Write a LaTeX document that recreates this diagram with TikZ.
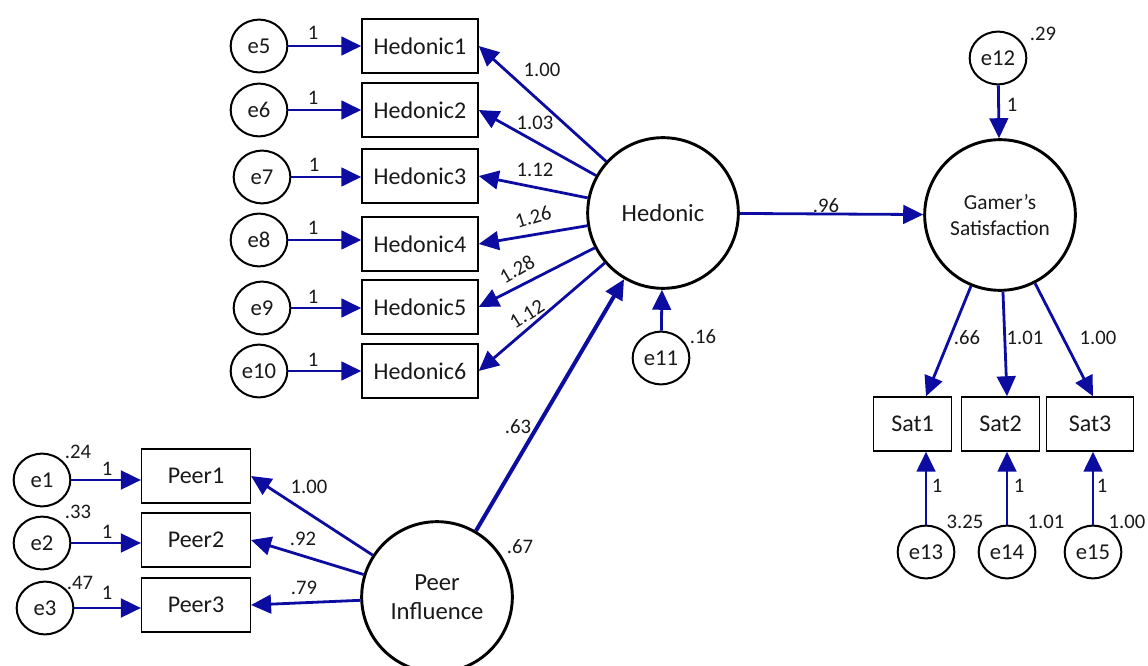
\documentclass[tikz,border=0pt]{standalone}
\usepackage{fontspec}
\setmainfont{Carlito}
\usetikzlibrary{arrows.meta,shapes.geometric}

\definecolor{pathblue}{RGB}{12,12,160}
\definecolor{inkgray}{RGB}{25,25,25}

\tikzset{
  errnode/.style={ellipse, draw, line width=1.5pt, minimum width=42.5pt, minimum height=39.5pt,
    inner sep=0pt, text=inkgray, font=\fontsize{17}{20}\selectfont},
  obsnode/.style={rectangle, draw, line width=1.1pt, minimum height=40.5pt, inner sep=0pt,
    text=inkgray, font=\fontsize{18}{21}\selectfont},
  latnode/.style={circle, draw, line width=2.2pt, minimum size=113pt, inner sep=0pt,
    align=center, text=inkgray, font=\fontsize{18.5}{22}\selectfont},
  regline/.style={draw=pathblue, line width=2.1pt, -{Triangle[length=15pt,width=14pt]}},
  coef/.style={inner sep=1pt, text=inkgray, font=\fontsize{15.5}{18}\selectfont}
}

\begin{document}
\begin{tikzpicture}[x=0.75pt, y=-0.75pt]
\useasboundingbox (0,0) rectangle (1148,666);

% Latent variables
\node[latnode] (hed) at (663,213) {Hedonic};
\node[latnode] (pi) at (437,597) {Peer\\Influence};
\node[latnode, font=\fontsize{16}{20}\selectfont] (gs) at (1000,215) {Gamer’s\\Satisfaction};

% Hedonic indicators and their errors
\node[obsnode, minimum width=87pt] (h1) at (420,46) {Hedonic1};
\node[obsnode, minimum width=87pt] (h2) at (420,110) {Hedonic2};
\node[obsnode, minimum width=87pt] (h3) at (420,176) {Hedonic3};
\node[obsnode, minimum width=87pt] (h4) at (420,244) {Hedonic4};
\node[obsnode, minimum width=87pt] (h5) at (420,307) {Hedonic5};
\node[obsnode, minimum width=87pt] (h6) at (420,371) {Hedonic6};
\node[errnode] (e5) at (259,46) {e5};
\node[errnode] (e6) at (259,110) {e6};
\node[errnode] (e7) at (262,177) {e7};
\node[errnode] (e8) at (259,240) {e8};
\node[errnode] (e9) at (262,308) {e9};
\node[errnode] (e10) at (259,371) {e10};
\node[errnode] (e11) at (661,358) {e11};

% Peer indicators and their errors
\node[obsnode, minimum width=81.5pt] (p1) at (196,476) {Peer1};
\node[obsnode, minimum width=81.5pt] (p2) at (196,540) {Peer2};
\node[obsnode, minimum width=81.5pt] (p3) at (196,605) {Peer3};
\node[errnode] (e1) at (42,480) {e1};
\node[errnode] (e2) at (42,543) {e2};
\node[errnode] (e3) at (45,608) {e3};

% Satisfaction indicators and their errors
\node[obsnode, minimum width=58.5pt] (s1) at (912.5,424) {Sat1};
\node[obsnode, minimum width=58.5pt] (s2) at (1000.5,424) {Sat2};
\node[obsnode, minimum width=65.5pt] (s3) at (1090,424) {Sat3};
\node[errnode] (e12) at (998,58) {e12};
\node[errnode] (e13) at (926,552) {e13};
\node[errnode] (e14) at (1007,552) {e14};
\node[errnode] (e15) at (1093,552) {e15};

% Paths
\draw[regline] (e5) -- (e5 -| h1.west);
\draw[regline] (e6) -- (e6 -| h2.west);
\draw[regline] (e7) -- (e7 -| h3.west);
\draw[regline] (e8) -- (e8 -| h4.west);
\draw[regline] (e9) -- (e9 -| h5.west);
\draw[regline] (e10) -- (e10 -| h6.west);
\draw[regline] (hed) -- (h1.east);
\draw[regline] (hed) -- (h2.east);
\draw[regline] (hed) -- (h3.east);
\draw[regline] (hed) -- (h4.east);
\draw[regline] (hed) -- (h5.east);
\draw[regline] (hed) -- (h6.east);
\draw[regline] (e11) -- (hed);
\draw[regline] (e1) -- (e1 -| p1.west);
\draw[regline] (e2) -- (e2 -| p2.west);
\draw[regline] (e3) -- (e3 -| p3.west);
\draw[regline] (pi) -- (p1.east);
\draw[regline] (pi) -- (p2.east);
\draw[regline] (pi) -- (p3.east);
\draw[regline, line width=3pt] (pi) -- (hed);
\draw[regline] (hed) -- (gs);
\draw[regline] (e12) -- (gs);
\draw[regline] (gs) -- (e13 |- s1.north);
\draw[regline] (gs) -- (e14 |- s2.north);
\draw[regline] (gs) -- (e15 |- s3.north);
\draw[regline] (e13) -- (e13 |- s1.south);
\draw[regline] (e14) -- (e14 |- s2.south);
\draw[regline] (e15) -- (e15 |- s3.south);

% Weights on the paths
\node[coef] (w5) at (313,33) {1};
\node[coef] (w6) at (313,98) {1};
\node[coef] (w7) at (314,165) {1};
\node[coef] (w8) at (313,228) {1};
\node[coef] (w9) at (313,297) {1};
\node[coef] (w10) at (313,360) {1};
\node[coef] (lh1) at (542,70) {1.00};
\node[coef] (lh2) at (535,123) {1.03};
\node[coef] (lh3) at (535,170) {1.12};
\node[coef, rotate=17] (lh4) at (533,217) {1.26};
\node[coef, rotate=30] (lh5) at (517,269) {1.28};
\node[coef, rotate=32] (lh6) at (527,314) {1.12};
\node[coef] (v11) at (703,337) {.16};
\node[coef] (w1) at (107,469) {1};
\node[coef] (w2) at (107,532) {1};
\node[coef] (w3) at (107,593) {1};
\node[coef] (v1) at (78,452) {.24};
\node[coef] (v2) at (78,512) {.33};
\node[coef] (v3) at (80,583) {.47};
\node[coef] (lp1) at (309,487) {1.00};
\node[coef] (lp2) at (303,539) {.92};
\node[coef] (lp3) at (304,588) {.79};
\node[coef] (bph) at (518,427) {.63};
\node[coef] (vpi) at (520,547) {.67};
\node[coef] (bhg) at (826,206) {.96};
\node[coef] (v12) at (1043,34) {.29};
\node[coef] (w12) at (1012,105) {1};
\node[coef] (ls1) at (967,338) {.66};
\node[coef] (ls2) at (1025,338) {1.01};
\node[coef] (ls3) at (1098,338) {1.00};
\node[coef] (w13) at (937,486) {1};
\node[coef] (w14) at (1019,486) {1};
\node[coef] (w15) at (1102,486) {1};
\node[coef] (v13) at (965,522) {3.25};
\node[coef] (v14) at (1046,522) {1.01};
\node[coef] (v15) at (1127,522) {1.00};
\end{tikzpicture}
\end{document}
